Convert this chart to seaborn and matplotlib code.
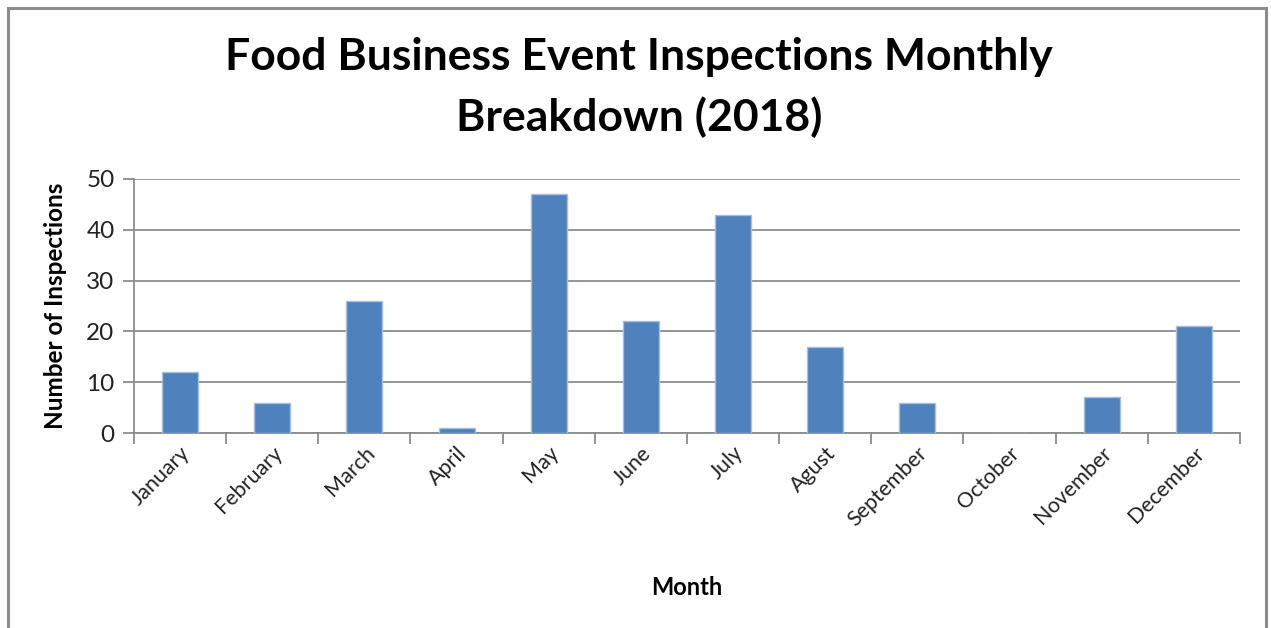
import matplotlib
matplotlib.use("Agg")
import matplotlib.pyplot as plt
import matplotlib.patches as mpatches
from matplotlib.ticker import FixedLocator
import seaborn as sns
import pandas as pd

months = ["January", "February", "March", "April", "May", "June",
          "July", "Agust", "September", "October", "November", "December"]
inspections = [12, 6, 26, 1, 47, 22, 43, 17, 6, 0, 7, 21]
y_ticks = [0, 10, 20, 30, 40, 50]

sns.set_theme(style="white")
plt.rcParams["font.family"] = ["Lato", "DejaVu Sans"]

df = pd.DataFrame({"Month": months, "Inspections": inspections})

fig = plt.figure(figsize=(12.71, 6.28), dpi=100)
ax = fig.add_axes([0.1054, 0.3105, 0.8702, 0.4045])

sns.barplot(data=df, x="Month", y="Inspections", color="#4F81BD",
            width=0.39, edgecolor="#A7BFDE", linewidth=1.0,
            saturation=1, ax=ax, zorder=3)

ax.set_xlim(-0.5, len(months) - 0.5)
ax.set_ylim(0, 50)
ax.set_yticks(y_ticks)
ax.yaxis.grid(True, color="#8C8C8C", linewidth=1.3, zorder=0)
ax.xaxis.grid(False)

for side in ["top", "right"]:
    ax.spines[side].set_visible(False)
for side in ["left", "bottom"]:
    ax.spines[side].set_color("#8C8C8C")
    ax.spines[side].set_linewidth(1.3)

# tick marks sit between categories, labels at category centres
ax.xaxis.set_minor_locator(FixedLocator([i - 0.5 for i in range(len(months) + 1)]))
ax.tick_params(axis="x", which="major", length=0, pad=7)
ax.tick_params(axis="x", which="minor", length=8, width=1.3, color="#8C8C8C",
               direction="out", bottom=True)
ax.tick_params(axis="y", which="major", length=8, width=1.3, color="#8C8C8C",
               direction="out", left=True, labelsize=17.5, labelcolor="#222222", pad=6)

ax.set_xticks(range(len(months)))
ax.set_xticklabels(months, rotation=45, ha="right", rotation_mode="anchor",
                   fontsize=15.5, color="#222222")

ax.set_xlabel("Month", fontsize=17, fontweight="bold", color="black", labelpad=33)
ax.set_ylabel("Number of Inspections", fontsize=17.5, fontweight="bold",
              color="black", labelpad=14)

fig.text(0.503, 0.861, "Food Business Event Inspections Monthly\nBreakdown (2018)",
         ha="center", va="center", fontsize=32, fontweight="bold",
         color="black", linespacing=1.55)

# outer chart frame (open at the bottom edge)
frame = mpatches.Rectangle((8 / 1271, -0.05), (1266 - 8) / 1271, 1 - 8 / 628 + 0.05,
                           transform=fig.transFigure, fill=False,
                           edgecolor="#8C8C8C", linewidth=2.2)
fig.add_artist(frame)

fig.savefig("out.png", dpi=100, facecolor="white")
